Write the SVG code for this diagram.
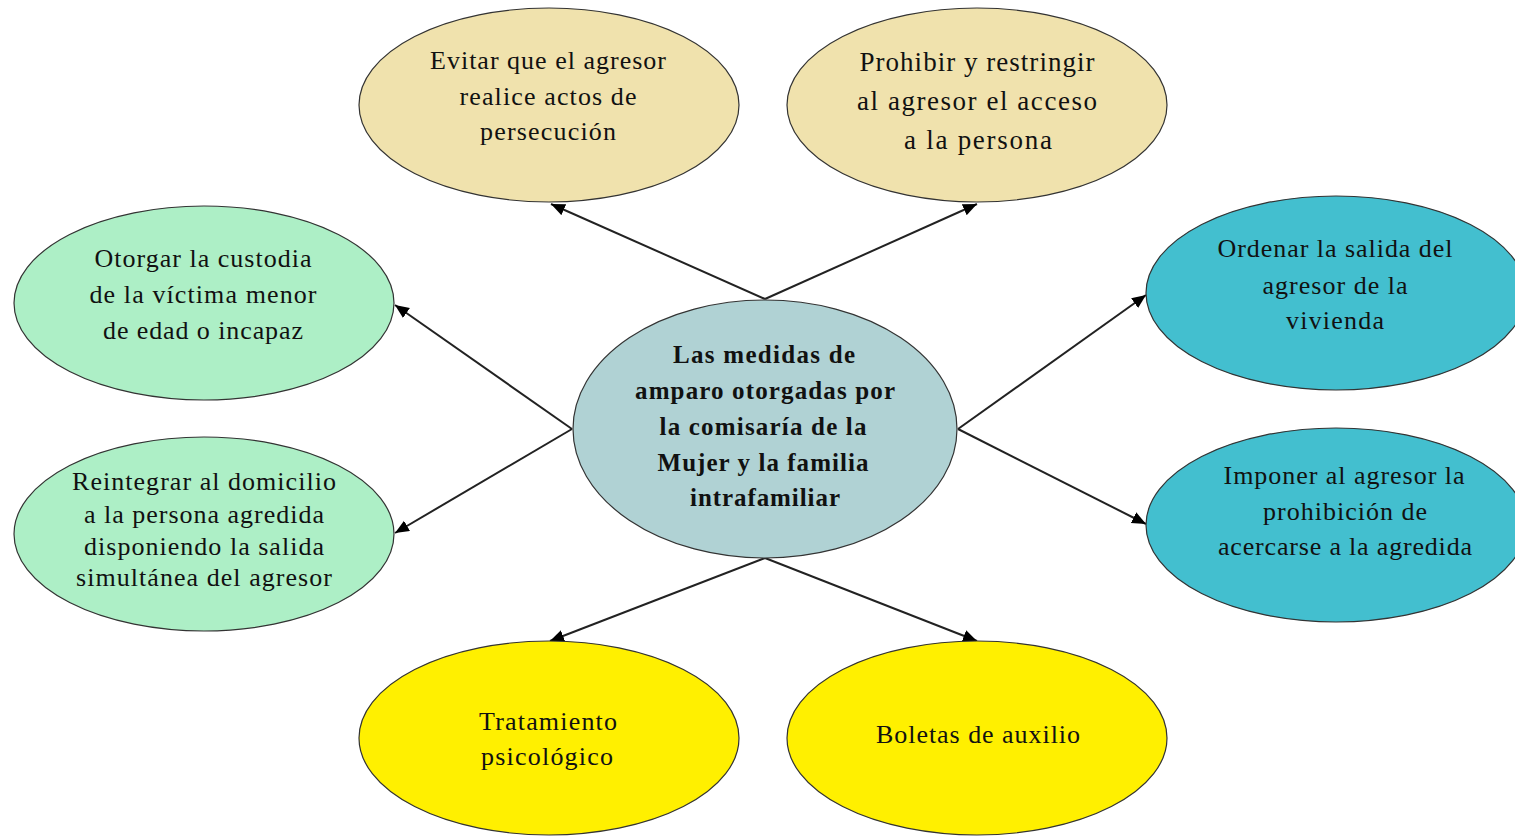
<svg xmlns="http://www.w3.org/2000/svg" width="1515" height="837" viewBox="0 0 1515 837">
<style>
.n{stroke:#333;stroke-width:1.2}
.t{font-family:"Liberation Serif","Times New Roman",serif;font-size:26px;fill:#111;text-anchor:middle}
.b{font-weight:bold;font-size:25px}
.p{font-size:27px}
.c{stroke:#222;stroke-width:2;fill:none;marker-end:url(#ah)}
</style>
<defs>
<marker id="ah" markerUnits="userSpaceOnUse" markerWidth="16" markerHeight="14" refX="14" refY="6" orient="auto">
<path d="M0,0 L14,6 L0,12 Z" fill="#000"/>
</marker>
</defs>
<rect width="1515" height="837" fill="#fff"/>
<g id="connectors">
<line class="c" x1="765" y1="299" x2="551" y2="204"/>
<line class="c" x1="765" y1="299" x2="977" y2="204"/>
<line class="c" x1="572" y1="429" x2="395" y2="305"/>
<line class="c" x1="572" y1="429" x2="395" y2="533"/>
<line class="c" x1="958" y1="429" x2="1146" y2="295"/>
<line class="c" x1="958" y1="429" x2="1146" y2="524"/>
<line class="c" x1="765" y1="558" x2="550" y2="641"/>
<line class="c" x1="765" y1="558" x2="977" y2="641"/>
</g>
<g id="center">
<ellipse class="n" cx="765" cy="429" rx="192" ry="129" fill="#B0D2D4"/>
<text class="t b" x="764" y="363" textLength="182" lengthAdjust="spacing">Las medidas  de</text>
<text class="t b" x="765" y="399" textLength="260" lengthAdjust="spacing">amparo  otorgadas por</text>
<text class="t b" x="763" y="435" textLength="207" lengthAdjust="spacing">la comisaría de la</text>
<text class="t b" x="763" y="471" textLength="211" lengthAdjust="spacing">Mujer y la familia</text>
<text class="t b" x="765" y="506" textLength="150" lengthAdjust="spacing">intrafamiliar</text>
</g>
<g id="n-evitar">
<ellipse class="n" cx="549" cy="105" rx="190" ry="97" fill="#F0E2AD"/>
<text class="t" x="548" y="69" textLength="236" lengthAdjust="spacing">Evitar que el agresor</text>
<text class="t" x="548" y="105" textLength="177" lengthAdjust="spacing">realice actos de</text>
<text class="t" x="548" y="140" textLength="136" lengthAdjust="spacing">persecución</text>
</g>
<g id="n-prohibir">
<ellipse class="n" cx="977" cy="105" rx="190" ry="97" fill="#F0E2AD"/>
<text class="t p" x="977" y="71" textLength="235" lengthAdjust="spacing">Prohibir y restringir</text>
<text class="t p" x="977" y="110" textLength="240" lengthAdjust="spacing">al agresor el acceso</text>
<text class="t p" x="978" y="149" textLength="148" lengthAdjust="spacing">a la persona</text>
</g>
<g id="n-otorgar">
<ellipse class="n" cx="204" cy="303" rx="190" ry="97" fill="#ADEFC6"/>
<text class="t" x="203" y="267" textLength="217" lengthAdjust="spacing">Otorgar la custodia</text>
<text class="t" x="203" y="303" textLength="227" lengthAdjust="spacing">de la víctima menor</text>
<text class="t" x="203" y="339" textLength="200" lengthAdjust="spacing">de edad o incapaz</text>
</g>
<g id="n-reintegrar">
<ellipse class="n" cx="204" cy="534" rx="190" ry="97" fill="#ADEFC6"/>
<text class="t" x="204" y="490" textLength="264" lengthAdjust="spacing">Reintegrar al domicilio</text>
<text class="t" x="204" y="523" textLength="240" lengthAdjust="spacing">a la persona agredida</text>
<text class="t" x="204" y="555" textLength="240" lengthAdjust="spacing">disponiendo la salida</text>
<text class="t" x="204" y="586" textLength="256" lengthAdjust="spacing">simultánea del agresor</text>
</g>
<g id="n-ordenar">
<ellipse class="n" cx="1336" cy="293" rx="190" ry="97" fill="#43BFCF"/>
<text class="t" x="1335" y="257" textLength="235" lengthAdjust="spacing">Ordenar la salida del</text>
<text class="t" x="1335" y="294" textLength="145" lengthAdjust="spacing">agresor de la</text>
<text class="t" x="1335" y="329" textLength="98" lengthAdjust="spacing">vivienda</text>
</g>
<g id="n-imponer">
<ellipse class="n" cx="1336" cy="525" rx="190" ry="97" fill="#43BFCF"/>
<text class="t" x="1344" y="484" textLength="241" lengthAdjust="spacing">Imponer al agresor la</text>
<text class="t" x="1345" y="520" textLength="164" lengthAdjust="spacing">prohibición de</text>
<text class="t" x="1345" y="555" textLength="254" lengthAdjust="spacing">acercarse a la agredida</text>
</g>
<g id="n-tratamiento">
<ellipse class="n" cx="549" cy="738" rx="190" ry="97" fill="#FFF000"/>
<text class="t" x="548" y="730" textLength="138" lengthAdjust="spacing">Tratamiento</text>
<text class="t" x="547" y="765" textLength="132" lengthAdjust="spacing">psicológico</text>
</g>
<g id="n-boletas">
<ellipse class="n" cx="977" cy="738" rx="190" ry="97" fill="#FFF000"/>
<text class="t" x="978" y="743" textLength="204" lengthAdjust="spacing">Boletas de auxilio</text>
</g>
</svg>
